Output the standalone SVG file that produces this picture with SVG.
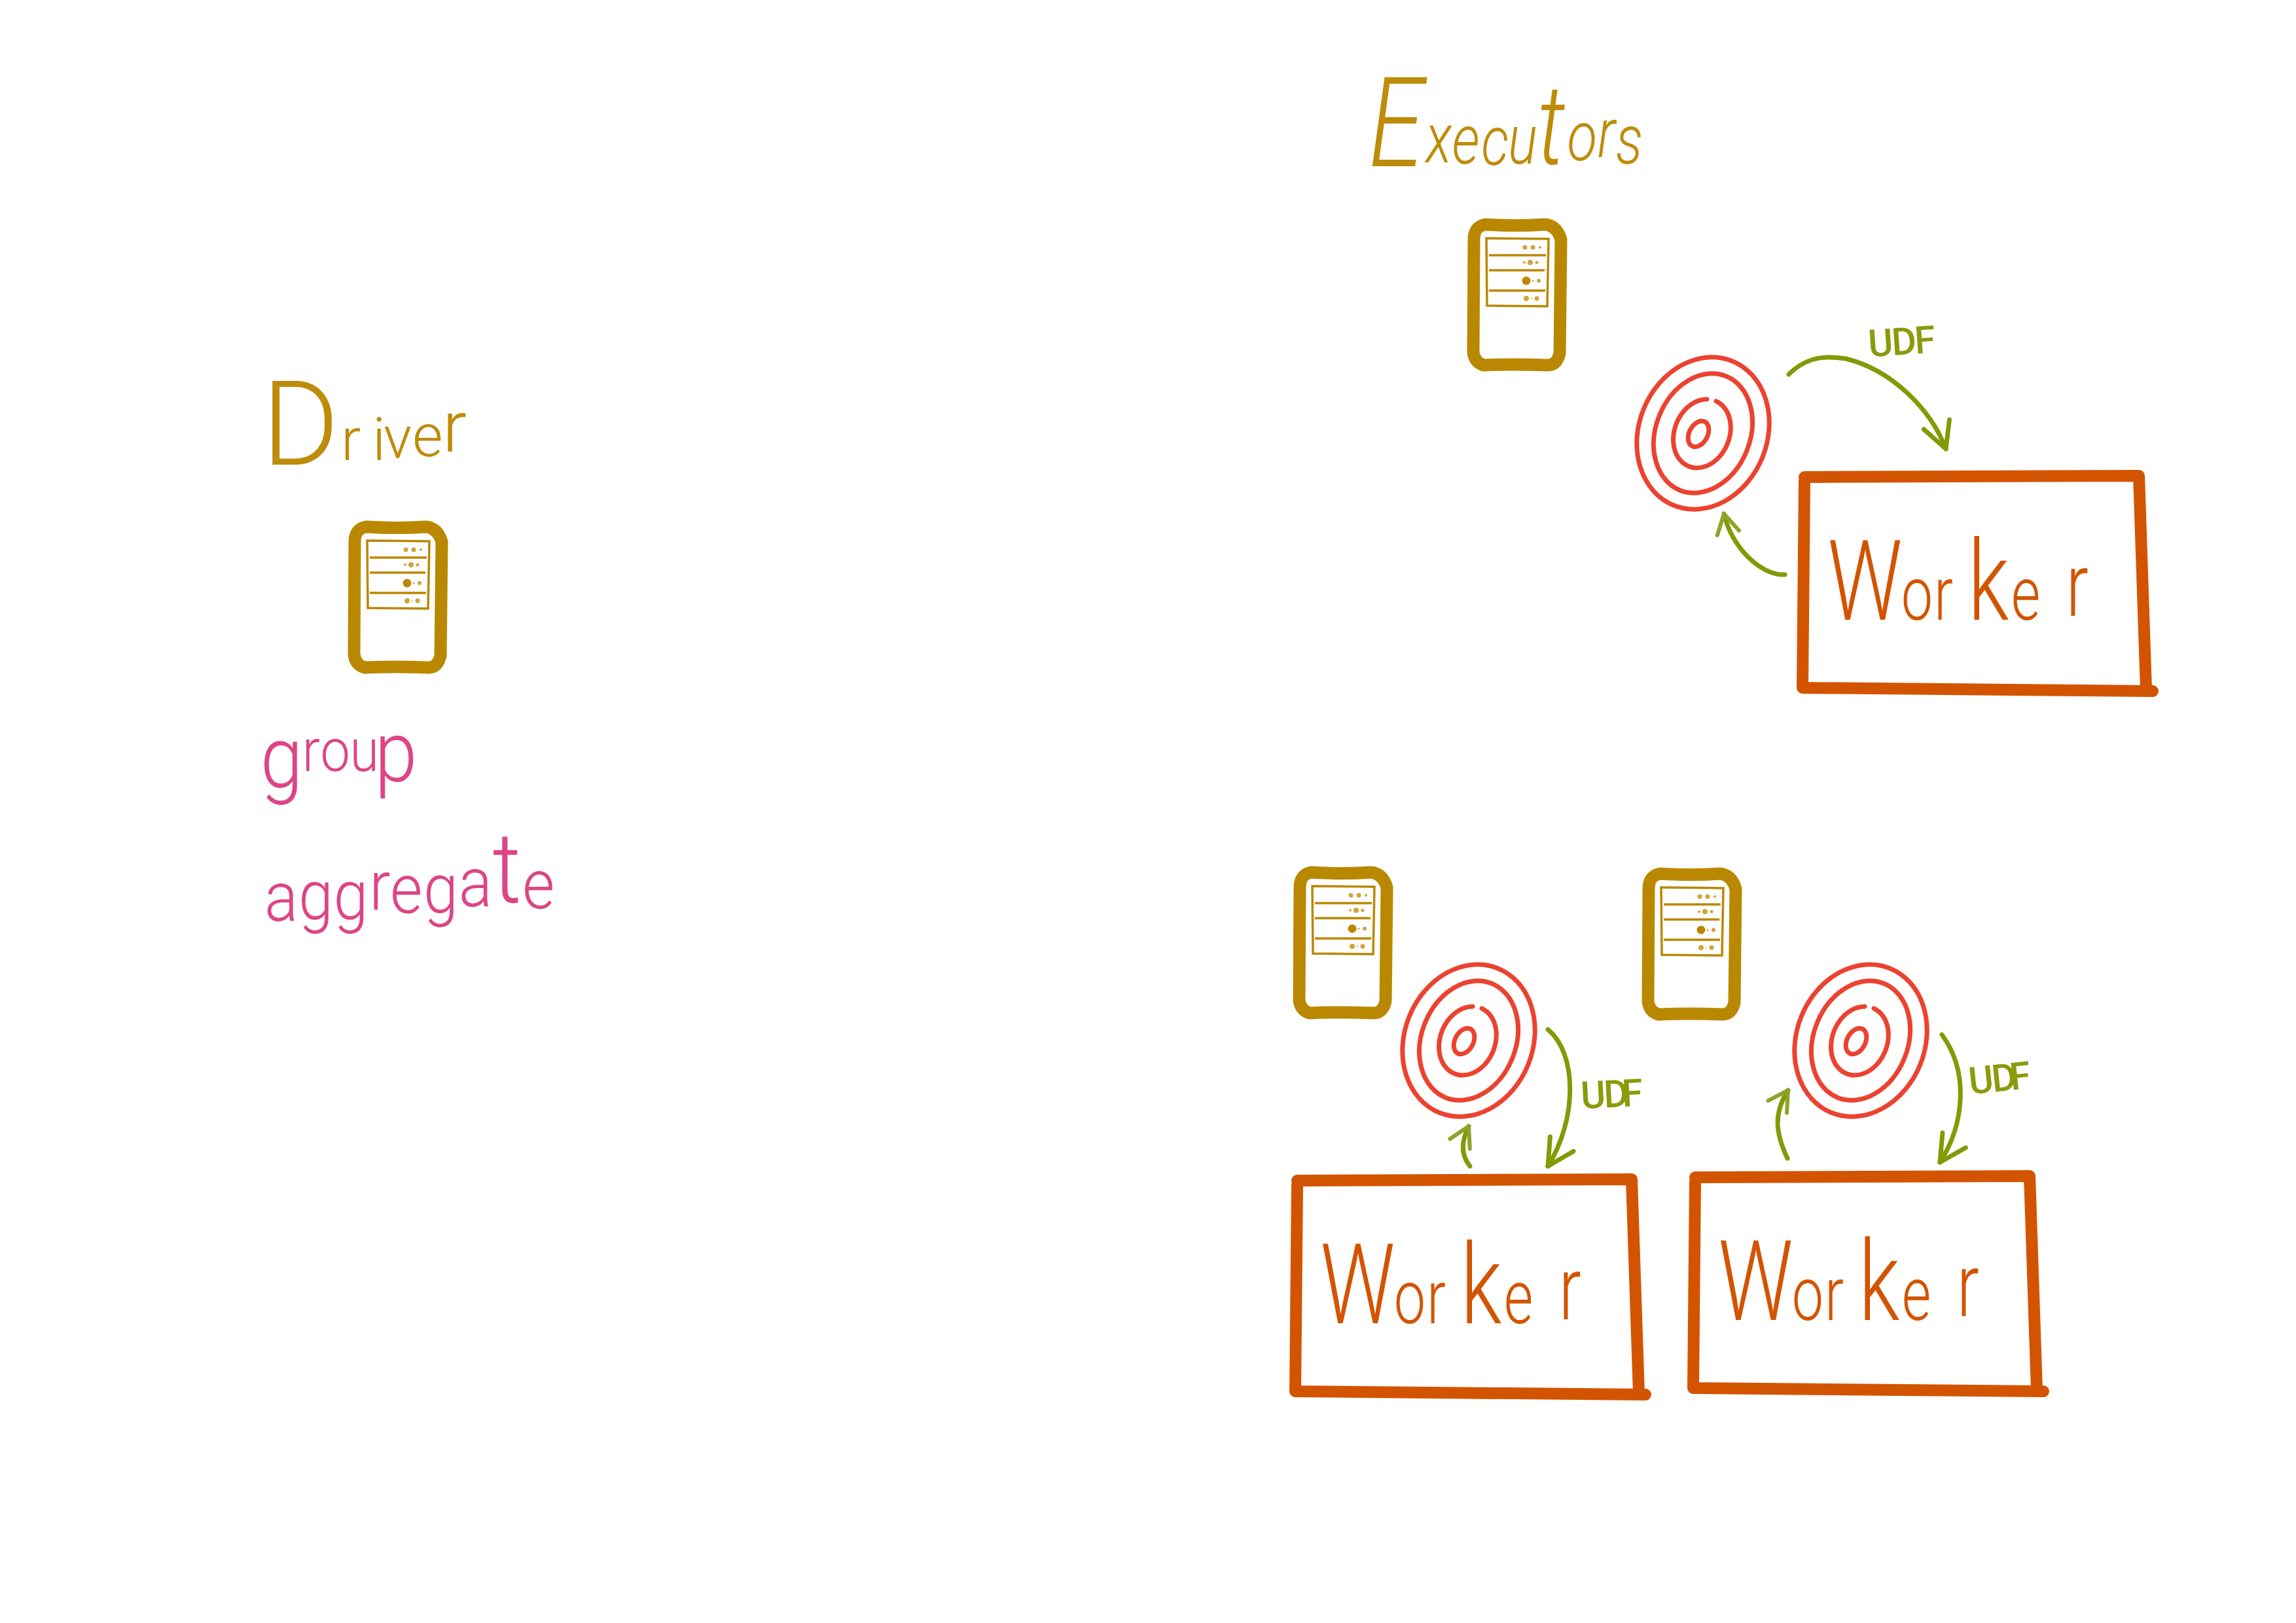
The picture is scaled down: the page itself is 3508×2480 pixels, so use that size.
<svg xmlns="http://www.w3.org/2000/svg" width="3508" height="2480" viewBox="0 0 3508 2480">
<style>
text{font-family:"Roboto","Liberation Sans",sans-serif;font-weight:300}
.gold{fill:#bd8c0a}
.pink{fill:#dd4585}
.work{fill:#d35400;font-size:115px}
.big{font-size:170px}
.last{font-size:135px}
.udf{fill:#8a9b0c;font-size:58px;font-weight:500}
.frame{fill:none;stroke:#d35400;stroke-width:18;stroke-linecap:round;stroke-linejoin:round}
.box{fill:none;stroke:#ba8800;stroke-width:19;stroke-linejoin:round}
.rack{fill:none;stroke:#ba8800;stroke-width:3.5}
.ring{fill:none;stroke:#ec4230;stroke-width:7;stroke-linecap:round}
.arrow{fill:none;stroke:#839a07;stroke-width:7;stroke-linecap:round;stroke-linejoin:round}
.lg{marker-end:url(#headL)}
.sm{marker-end:url(#headS)}
</style>
<defs>
<marker id="headL" markerUnits="userSpaceOnUse" markerWidth="60" markerHeight="60" refX="50" refY="30" orient="auto" overflow="visible"><path d="M10 9 L50 30 L10 51" fill="none" stroke="#839a07" stroke-width="7" stroke-linecap="round" stroke-linejoin="round"/></marker>
<marker id="headS" markerUnits="userSpaceOnUse" markerWidth="50" markerHeight="50" refX="40" refY="25" orient="auto" overflow="visible"><path d="M10 8 L40 25 L10 42" fill="none" stroke="#8fa32a" stroke-width="6" stroke-linecap="round" stroke-linejoin="round"/></marker>
<g id="server">
<path class="box" d="M9 32 Q10 14 26 11 Q75 14 118 11 Q136 13 142 34 L140 208 Q136 226 122 226 Q70 224 24 226 Q10 222 8 206 Z"/>
<path class="rack" d="M28 32 L123 33 L121 136 L29 135 Z M32 58 L119 58 M32 81 L117 81 M32 112 L118 112"/>
<g fill="#cfa53c"><circle cx="87" cy="46" r="3.5"/><circle cx="99" cy="46" r="3.5"/><circle cx="110" cy="46" r="2"/><circle cx="86" cy="69" r="2"/><circle cx="95" cy="69" r="4"/><circle cx="105" cy="69" r="2.5"/><circle cx="99" cy="97" r="1.5"/><circle cx="108" cy="97" r="3"/><circle cx="89" cy="124" r="4"/><circle cx="97" cy="124" r="1"/><circle cx="105" cy="124" r="3.5"/></g>
<circle cx="89" cy="97" r="6.5" fill="#ba8800"/>
</g>
<g id="target">
<ellipse class="ring" rx="98" ry="119" transform="rotate(22)"/>
<ellipse class="ring" rx="72" ry="94" transform="rotate(22)"/>
<path class="ring" d="M20 -49 A42 54 22 1 1 6 -52"/>
<ellipse class="ring" cx="-7" cy="1" rx="14" ry="21" transform="rotate(28 -7 1)"/>
</g>
<path id="frame" class="frame" d="M0 0 L511 -2 L522 325 M-3 322 L532 327 M0 6 L-3 322"/>
</defs>

<g id="connectors">
<path class="arrow lg" d="M2733 572 C2765 540 2800 545 2820 548 C2890 565 2950 625 2973 686"/>
<path class="arrow sm" d="M2727 878 C2690 880 2645 835 2634 785"/>
<path class="arrow lg" d="M2365 1573 C2410 1610 2410 1710 2365 1782"/>
<path class="arrow sm" d="M2246 1782 C2232 1765 2232 1745 2244 1721"/>
<path class="arrow lg" d="M2967 1581 C3010 1640 3000 1720 2964 1776"/>
<path class="arrow sm" d="M2731 1770 C2712 1730 2710 1700 2732 1666"/>
</g>

<g id="driver">
<text class="gold" font-size="90" x="400 521 569 586 630 676" y="710 703 703 700 697 690"><tspan font-size="180">D</tspan>rive<tspan font-size="110">r</tspan></text>
<use href="#server" x="533" y="794"/>
</g>
<g id="driver-steps">
<text class="pink" font-size="90" transform="scale(.9 1)" x="442 513 544 594 636" y="1203 1178 1178 1178 1194"><tspan font-size="130">g</tspan>rou<tspan font-size="130">p</tspan></text>
<text class="pink" font-size="105" transform="scale(.91 1)" x="444 501 560 620 655 711 770 827 877" y="1407 1405 1405 1390 1395 1395 1385 1379 1388">aggrega<tspan font-size="150">t</tspan>e</text>
</g>

<g id="executors">
<text class="gold" font-size="105" font-style="italic" transform="scale(.8 1)" x="2614 2723 2773 2829 2880 2936 2993 3051 3086" y="254 248 250 252 250 250 245 240 250"><tspan font-size="190">E</tspan>xecu<tspan font-size="170">t</tspan>ors</text>
</g>

<g id="server-1"><use href="#server" x="2243" y="332"/></g>
<g id="server-2"><use href="#server" x="1977" y="1322"/></g>
<g id="server-3"><use href="#server" x="2510" y="1324"/></g>

<g id="task-1"><use href="#target" x="2602" y="662"/></g>
<g id="task-2"><use href="#target" x="2244" y="1590"/></g>
<g id="task-3"><use href="#target" x="2843" y="1590"/></g>

<g id="worker-1" transform="translate(2757 729)">
<use href="#frame"/>
<text class="work" transform="scale(.75 1)" x="47 197 264 333 421 533" y="218 218 218 218 218 212"><tspan class="big">W</tspan>or<tspan class="big">k</tspan>e<tspan class="last">r</tspan></text>
</g>
<g id="worker-2" transform="translate(1982 1804)">
<use href="#frame"/>
<text class="work" transform="scale(.75 1)" x="47 197 264 333 421 533" y="218 218 218 218 218 212"><tspan class="big">W</tspan>or<tspan class="big">k</tspan>e<tspan class="last">r</tspan></text>
</g>
<g id="worker-3" transform="translate(2590 1799)">
<use href="#frame"/>
<text class="work" transform="scale(.75 1)" x="47 197 264 333 421 533" y="218 218 218 218 218 212"><tspan class="big">W</tspan>or<tspan class="big">k</tspan>e<tspan class="last">r</tspan></text>
</g>

<g id="udf-labels">
<text class="udf" transform="rotate(-4 2905 520)" x="2854 2890 2925" y="542">UDF</text>
<text class="udf" transform="rotate(-3 2458 1670)" x="2415 2450 2478" y="1692">UDF</text>
<text class="udf" transform="rotate(-6 3050 1650)" x="3008 3043 3071" y="1668">UDF</text>
</g>
</svg>
